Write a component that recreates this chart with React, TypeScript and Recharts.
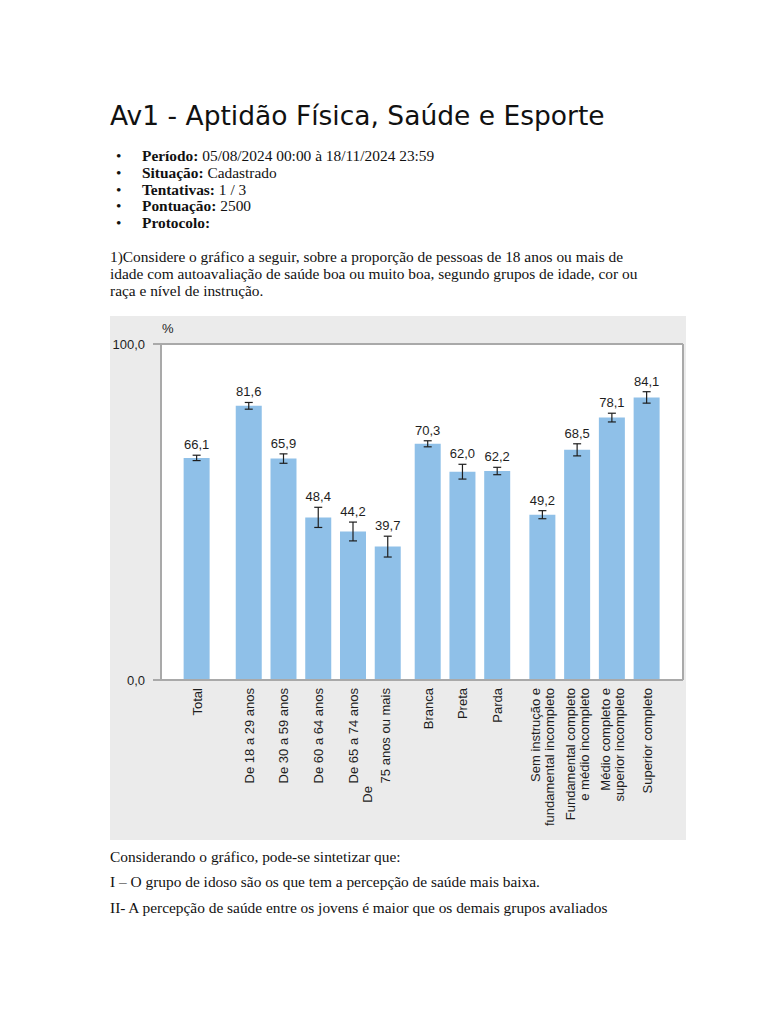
import React from 'react';
import { ComposedChart, Bar, XAxis, YAxis, CartesianGrid, ErrorBar, LabelList, ReferenceLine } from 'recharts';

// categories, in display order (\n = line break in the rotated tick)
const labels = [
  'Total',
  'De 18 a 29 anos',
  'De 30 a 59 anos',
  'De 60 a 64 anos',
  'De 65 a 74 anos',
  'De\n75 anos ou mais',
  'Branca',
  'Preta',
  'Parda',
  'Sem instrução e\nfundamental incompleto',
  'Fundamental completo\ne médio incompleto',
  'Médio completo e\nsuperior incompleto',
  'Superior completo',
];
const groupSizes = [1, 5, 3, 4];
const values = [66.1, 81.6, 65.9, 48.4, 44.2, 39.7, 70.3, 62.0, 62.2, 49.2, 68.5, 78.1, 84.1];
const errors = [0.8, 1.0, 1.4, 3.0, 2.8, 3.1, 0.9, 2.2, 1.1, 1.2, 1.8, 1.3, 1.7];
const yTicks = [0, 100];

// extra space (in bar slots) after each group, as spaced in the source image
const GROUP_GAPS = [0.5, 0.15, 0.3];
const BAR_COLOR = '#8fc0e8';
const LINE = '#a9a9a9';
const INK = '#1e1e1e';
const SANS = '"Liberation Sans", Arial, sans-serif';
const SERIF = '"Liberation Serif", "Times New Roman", serif';

const groupOf: number[] = [];
groupSizes.forEach((n, g) => {
  for (let k = 0; k < n; k++) groupOf.push(g);
});
const gapBefore = (g: number) => GROUP_GAPS.slice(0, g).reduce((s, v) => s + v, 0);

const data = labels.map((label, i) => ({
  label,
  value: values[i],
  err: errors[i],
  pos: i + gapBefore(groupOf[i]),
}));
const positions = data.map((d) => d.pos);

const fmt = (v: number) => v.toFixed(1).replace('.', ',');

const CategoryTick = (props: any) => {
  const { x, y, payload } = props;
  const row = data.find((d) => Math.abs(d.pos - payload.value) < 1e-6);
  if (!row) return null;
  const lines = row.label.split('\n');
  const lh = 14;
  // a short dangling first word (as in the source image) sits lower and to the left
  const dangling = lines.length > 1 && lines[0].length < 4;
  return (
    <g>
      {lines.map((ln, i) => {
        const cx = dangling ? x - 3 - (lines.length - 1 - i) * 18 : x - ((lines.length - 1) * lh) / 2 + i * lh;
        const drop = dangling && i === 0 ? 98 : 0;
        return (
          <text
            key={i}
            transform={`translate(${cx + 4.5},${y + drop}) rotate(-90)`}
            textAnchor="end"
            fontSize={13}
            fontFamily={SANS}
            fill={INK}
          >
            {ln}
          </text>
        );
      })}
    </g>
  );
};

const ValueLabel = (props: any) => {
  const { x, y, width, height, value, index } = props;
  const unit = height / value;
  return (
    <text
      x={x + width / 2}
      y={y - errors[index] * unit - 6}
      textAnchor="middle"
      fontSize={13}
      fontFamily={SANS}
      fill={INK}
    >
      {fmt(value)}
    </text>
  );
};

const bullets: [string, string][] = [
  ['Período:', ' 05/08/2024 00:00 à 18/11/2024 23:59'],
  ['Situação:', ' Cadastrado'],
  ['Tentativas:', ' 1 / 3'],
  ['Pontuação:', ' 2500'],
  ['Protocolo:', ''],
];

const intro = [
  '1)Considere o gráfico a seguir, sobre a proporção de pessoas de 18 anos ou mais de',
  'idade com autoavaliação de saúde boa ou muito boa, segundo grupos de idade, cor ou',
  'raça e nível de instrução.',
];

const after = [
  'Considerando o gráfico, pode-se sintetizar que:',
  'I – O grupo de idoso são os que tem a percepção de saúde mais baixa.',
  'II- A percepção de saúde entre os jovens é maior que os demais grupos avaliados',
];
const afterTops = [848, 873, 899];

const textLine = (top: number): React.CSSProperties => ({
  position: 'absolute',
  left: 110,
  top,
  fontFamily: SERIF,
  fontSize: 15.4,
  lineHeight: '17px',
  color: '#111',
  whiteSpace: 'nowrap',
});

export default function App() {
  return (
    <div style={{ position: 'absolute', left: 0, top: 0, width: 768, height: 1024, background: '#fff' }}>
      <div
        style={{
          position: 'absolute',
          left: 110,
          top: 101,
          fontFamily: '"DejaVu Sans", sans-serif',
          fontSize: 26.5,
          lineHeight: '30px',
          color: '#111',
          whiteSpace: 'nowrap',
        }}
      >
        Av1 - Aptidão Física, Saúde e Esporte
      </div>

      {bullets.map(([k, v], i) => (
        <React.Fragment key={k}>
          <div style={{ ...textLine(147 + i * 16.75), left: 116 }}>•</div>
          <div style={{ ...textLine(147 + i * 16.75), left: 142 }}>
            <b>{k}</b>
            {v}
          </div>
        </React.Fragment>
      ))}

      {intro.map((t, i) => (
        <div key={i} style={textLine(248 + i * 17)}>
          {t}
        </div>
      ))}

      <div style={{ position: 'absolute', left: 110, top: 316, width: 576, height: 524, background: '#ebebeb' }}>
        <ComposedChart
          width={576}
          height={524}
          data={data}
          margin={{ top: 28, right: 1, bottom: 0, left: 0 }}
        >
          <CartesianGrid fill="#ffffff" horizontal={false} vertical={false} />
          <XAxis
            type="number"
            dataKey="pos"
            domain={['dataMin', 'dataMax']}
            ticks={positions}
            interval={0}
            padding={{ left: 36, right: 36 }}
            height={160}
            tickLine={false}
            axisLine={{ stroke: LINE, strokeWidth: 2 }}
            tick={<CategoryTick />}
          />
          <YAxis
            yAxisId="left"
            domain={[0, 100]}
            ticks={yTicks}
            width={51}
            tickSize={8}
            tickMargin={8}
            tickFormatter={fmt}
            tickLine={{ stroke: LINE, strokeWidth: 2 }}
            axisLine={{ stroke: LINE, strokeWidth: 2 }}
            tick={{ fontSize: 13, fontFamily: SANS, fill: INK }}
          />
          <YAxis
            yAxisId="right"
            orientation="right"
            domain={[0, 100]}
            width={2}
            tick={false}
            tickLine={false}
            axisLine={{ stroke: LINE, strokeWidth: 2 }}
          />
          <ReferenceLine yAxisId="left" y={100} stroke={LINE} strokeWidth={2} />
          <Bar yAxisId="left" dataKey="value" fill={BAR_COLOR} barSize={26} isAnimationActive={false}>
            <ErrorBar dataKey="err" direction="y" width={4} stroke={INK} strokeWidth={1.2} isAnimationActive={false} />
            <LabelList dataKey="value" content={<ValueLabel />} />
          </Bar>
        </ComposedChart>
        <span
          style={{
            position: 'absolute',
            left: 52,
            top: 5,
            fontFamily: SANS,
            fontSize: 13,
            lineHeight: '15px',
            color: INK,
          }}
        >
          %
        </span>
      </div>

      {after.map((t, i) => (
        <div key={i} style={textLine(afterTops[i])}>
          {t}
        </div>
      ))}
    </div>
  );
}
